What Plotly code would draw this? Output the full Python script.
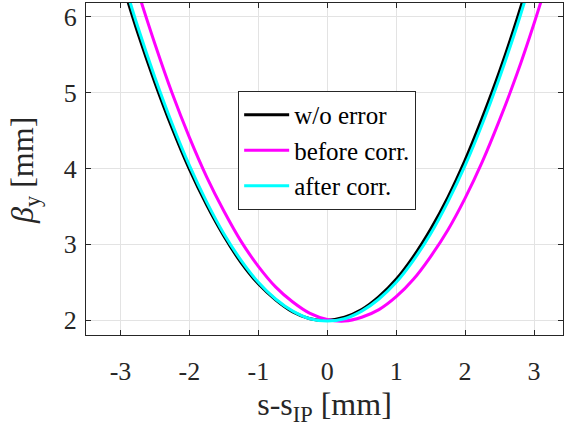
import plotly.graph_objects as go

# s - s_IP [mm] sample positions
s_vals = [-3.0, -2.75, -2.5, -2.25, -2.0, -1.75, -1.5, -1.25, -1.0, -0.75, -0.5, -0.25,
          0.0, 0.25, 0.5, 0.75, 1.0, 1.25, 1.5, 1.75, 2.0, 2.25, 2.5, 2.75, 3.0]
beta_wo_error = [6.52, 5.79, 5.13, 4.53, 3.99, 3.52, 3.11, 2.76, 2.48, 2.27, 2.11, 2.02,
                 2.00, 2.04, 2.14, 2.31, 2.54, 2.84, 3.20, 3.62, 4.11, 4.67, 5.28, 5.96, 6.71]
beta_after = [6.61, 5.87, 5.20, 4.59, 4.04, 3.56, 3.14, 2.79, 2.50, 2.28, 2.12, 2.02,
              1.99, 2.02, 2.12, 2.28, 2.50, 2.79, 3.14, 3.56, 4.04, 4.59, 5.20, 5.87, 6.61]

s_before = [-2.75, -2.5, -2.25, -2.0, -1.75, -1.5, -1.25, -1.0, -0.75, -0.5, -0.25,
            0.0, 0.25, 0.5, 0.75, 1.0, 1.25, 1.5, 1.75, 2.0, 2.25, 2.5, 2.75, 3.0, 3.25]
beta_before = [6.34, 5.64, 4.99, 4.41, 3.89, 3.44, 3.04, 2.71, 2.44, 2.24, 2.09,
               2.01, 1.99, 2.04, 2.14, 2.31, 2.54, 2.84, 3.19, 3.61, 4.09, 4.64, 5.24, 5.91, 6.64]

x_ticks = [-3, -2, -1, 0, 1, 2, 3]
x_tick_labels = ["-3", "-2", "-1", "0", "1", "2", "3"]
y_ticks = [2, 3, 4, 5, 6]
y_tick_labels = ["2", "3", "4", "5", "6"]

FONT = "Liberation Serif"
AXC = "#262626"

fig = go.Figure()
fig.add_trace(go.Scatter(x=s_vals, y=beta_wo_error, mode="lines", name="w/o error",
                         line=dict(color="#000000", width=3, shape="spline")))
fig.add_trace(go.Scatter(x=s_before, y=beta_before, mode="lines", name="before corr.",
                         line=dict(color="#FF00FF", width=3, shape="spline")))
fig.add_trace(go.Scatter(x=s_vals, y=beta_after, mode="lines", name="after corr.",
                         line=dict(color="#00FFFF", width=3, shape="spline")))

axis_common = dict(
    showline=True, linecolor=AXC, linewidth=1, mirror="ticks",
    ticks="inside", ticklen=5, tickcolor=AXC, tickwidth=1,
    showgrid=True, gridcolor="#e3e3e3", gridwidth=1, zeroline=False,
    tickfont=dict(family=FONT, size=26, color=AXC),
    automargin=False,
)

fig.update_layout(
    width=564, height=434,
    margin=dict(l=86, r=1, t=3, b=99),
    paper_bgcolor="white", plot_bgcolor="white",
    font=dict(family=FONT, color=AXC, size=26),
    xaxis=dict(range=[-3.5, 3.42], tickvals=x_ticks, ticktext=x_tick_labels,
               ticklabelstandoff=13,
               title=dict(text="s-s<sub>IP</sub> [mm]", font=dict(family=FONT, size=32, color=AXC),
                          standoff=2),
               **axis_common),
    yaxis=dict(range=[1.806, 6.18], tickvals=y_ticks, ticktext=y_tick_labels,
               ticklabelstandoff=3,
               **axis_common),
    legend=dict(x=0.319, y=0.735, xanchor="left", yanchor="top",
                bgcolor="white", bordercolor=AXC, borderwidth=1,
                font=dict(family=FONT, size=25, color="#000000"),
                itemwidth=45),
    showlegend=True,
)

# y-axis title as a rotated text label placed left of the tick labels
fig.add_annotation(text="<i>β</i><sub>y</sub> [mm]", xref="paper", yref="paper",
                   x=-0.128, y=0.497, xanchor="center", yanchor="middle",
                   textangle=-90, showarrow=False,
                   font=dict(family=FONT, size=32, color=AXC))

fig.write_html("out.html", config={"displayModeBar": False},
               post_script="document.body.style.margin='0';")
